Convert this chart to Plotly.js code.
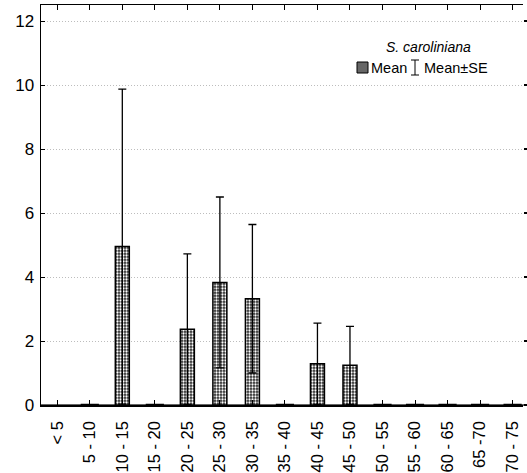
<!DOCTYPE html>
<html>
<head>
<meta charset="utf-8">
<script src="https://cdn.plot.ly/plotly-3.0.1.min.js"></script>
<style>html,body{margin:0;padding:0;background:#fff;}#chart{width:527px;height:473px;}</style>
</head>
<body>
<div id="chart"></div>
<script>
const categories = ["< 5","5 - 10","10 - 15","15 - 20","20 - 25","25 - 30","30 - 35","35 - 40","40 - 45","45 - 50","50 - 55","55 - 60","60 - 65","65 -70","70 - 75"];
const meanValues = [null, 0, 4.95, 0, 2.37, 3.83, 3.32, 0, 1.29, 1.24, 0, 0, 0, 0, 0];
const seValues   = [null, 0, 4.92, 0, 2.35, 2.67, 2.32, 0, 1.27, 1.22, 0, 0, 0, 0, 0];
const yTicks = [0, 2, 4, 6, 8, 10, 12];
const legendTitle = "S. caroliniana";
const legendMean = "Mean";
const legendSE = "Mean±SE";

const FONT = "Arial, 'Liberation Sans', sans-serif";

const zeroCats = categories.filter((c, i) => meanValues[i] === 0);
const zeroVals = meanValues.filter(v => v === 0);

const traces = [
  {
    type: "bar",
    x: categories,
    y: meanValues,
    width: 0.43,
    marker: {
      color: "#333333",
      line: {color: "#000000", width: 1.5},
      pattern: {shape: ".", fgcolor: "#ffffff", bgcolor: "#2a2a2a", size: 3, solidity: 0.45, fillmode: "replace"}
    },
    error_y: {type: "data", array: seValues, visible: true, color: "#000000", thickness: 1.3, width: 4},
    showlegend: false,
    hoverinfo: "skip"
  },
  {
    type: "scatter",
    mode: "markers",
    x: zeroCats,
    y: zeroVals,
    marker: {symbol: "line-ew", size: 13, line: {color: "#000000", width: 2.5}},
    cliponaxis: false,
    showlegend: false,
    hoverinfo: "skip"
  },
  {
    type: "scatter", mode: "markers", x: [categories[0]], y: [0], yaxis: "y2",
    marker: {opacity: 0}, showlegend: false, hoverinfo: "skip"
  }
];

const W = 482, H = 400, L = 41, T = 5;
const px = x => (x - L) / W;
const py = y => (T + H - y) / H;

const layout = {
  width: 527, height: 473,
  margin: {l: 41, r: 4, t: 5, b: 68},
  paper_bgcolor: "#ffffff",
  plot_bgcolor: "#ffffff",
  font: {family: FONT, size: 15, color: "#000000"},
  showlegend: false,
  xaxis: {
    type: "category",
    range: [-0.5, 14.32],
    tickangle: -90,
    ticks: "inside", ticklen: 5, tickwidth: 1, tickcolor: "#000000",
    showline: true, linecolor: "#000000", linewidth: 1.5, mirror: "ticks",
    showgrid: false, zeroline: false,
    ticklabelstandoff: 8,
    tickfont: {family: FONT, size: 16.5, color: "#000000"}
  },
  yaxis: {
    range: [0, 12.5],
    tickvals: yTicks,
    ticks: "inside", ticklen: 4, tickwidth: 1, tickcolor: "#000000",
    showline: true, linecolor: "#000000", linewidth: 1.5,
    showgrid: true, gridcolor: "#bdbdbd", gridwidth: 1, griddash: "1px,2px",
    zeroline: false,
    ticklabelstandoff: 2,
    tickfont: {family: FONT, size: 17, color: "#000000"}
  },
  yaxis2: {
    overlaying: "y", side: "right", range: [0, 12.5], tickvals: yTicks,
    ticks: "outside", ticklen: 4, tickwidth: 1.5, tickcolor: "#000000",
    showticklabels: false, showline: false, showgrid: false, zeroline: false
  },
  shapes: [
    {type: "line", xref: "paper", yref: "paper", x0: 0, x1: 1.01, y0: 0, y1: 0,
     line: {color: "#666666", width: 2}, layer: "below"},
    {type: "rect", xref: "paper", yref: "paper",
     x0: px(357), x1: px(368), y0: py(73), y1: py(62),
     fillcolor: "#666666", line: {color: "#000000", width: 1}},
    {type: "line", xref: "paper", yref: "paper", x0: px(415), x1: px(415), y0: py(75), y1: py(60),
     line: {color: "#000000", width: 1}},
    {type: "line", xref: "paper", yref: "paper", x0: px(411), x1: px(419), y0: py(60), y1: py(60),
     line: {color: "#000000", width: 1}},
    {type: "line", xref: "paper", yref: "paper", x0: px(411), x1: px(419), y0: py(75), y1: py(75),
     line: {color: "#000000", width: 1}}
  ],
  annotations: [
    {xref: "paper", yref: "paper", x: px(428), y: py(47), text: "<i>" + legendTitle + "</i>",
     showarrow: false, xanchor: "center", yanchor: "middle", font: {family: FONT, size: 14}},
    {xref: "paper", yref: "paper", x: px(369), y: py(67.5), text: legendMean,
     showarrow: false, xanchor: "left", yanchor: "middle", font: {family: FONT, size: 14.5}},
    {xref: "paper", yref: "paper", x: px(422), y: py(67.5), text: legendSE,
     showarrow: false, xanchor: "left", yanchor: "middle", font: {family: FONT, size: 14.5}}
  ]
};

Plotly.newPlot("chart", traces, layout, {displayModeBar: false, staticPlot: true});
</script>
</body>
</html>
